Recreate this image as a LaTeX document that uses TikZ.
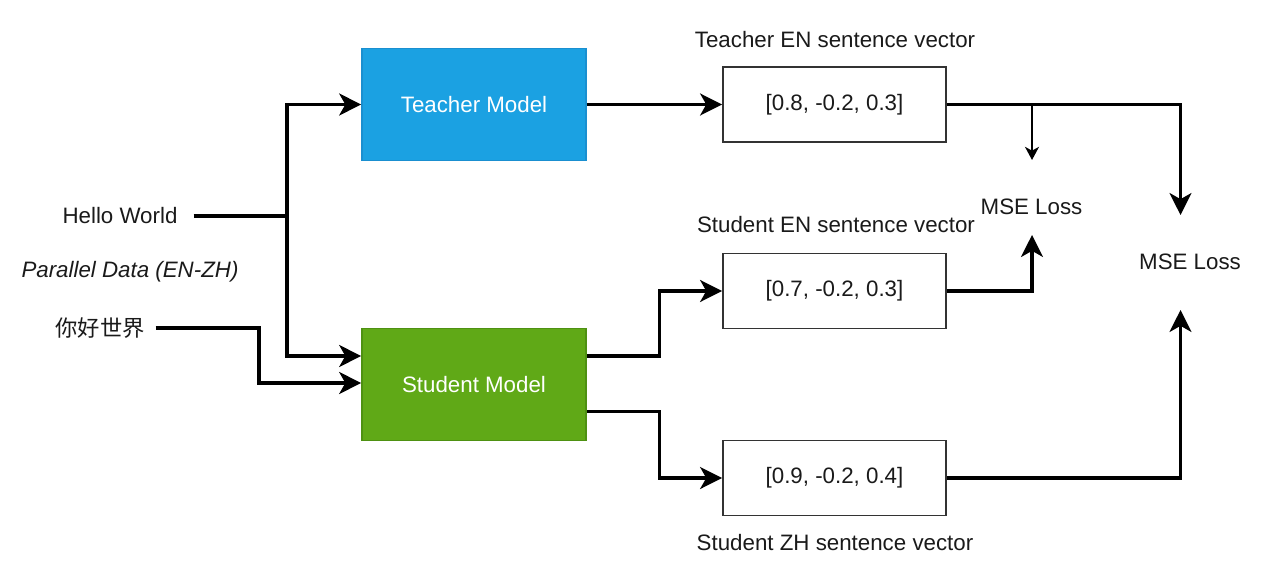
\documentclass[tikz,border=0pt]{standalone}
\usepackage{fontspec}
\setmainfont{Liberation Sans}
\newfontfamily\cjk{Noto Sans CJK SC}
\usetikzlibrary{arrows.meta,calc}
\definecolor{tblue}{HTML}{1BA1E2}
\definecolor{tblueb}{HTML}{1A8FD0}
\definecolor{sgreen}{HTML}{60A917}
\definecolor{sgreenb}{HTML}{4E9112}
\definecolor{txt}{HTML}{1A1A1A}
\tikzset{
  modelbox/.style={draw=#1, line width=1pt, minimum width=4.48cm, minimum height=2.24cm, text=white, font=\fontsize{12.7}{14}\selectfont},
  vecbox/.style={draw=black!80, line width=1.1pt, fill=white, minimum width=4.46cm, minimum height=1.5cm, text=txt, font=\fontsize{12.7}{14}\selectfont},
  lbl/.style={text=txt, font=\fontsize{12.7}{14}\selectfont, inner sep=0pt},
  conn/.style={line width=1.8pt, draw=black, -{Stealth[length=12.5pt,width=12.5pt,inset=3.5pt]}},
  plain/.style={line width=1.8pt, draw=black},
  thinconn/.style={line width=0.9pt, draw=black, -{Stealth[length=7.5pt,width=8pt,inset=2.2pt]}}
}
\begin{document}
\begin{tikzpicture}[x=0.02cm,y=-0.02cm]
\useasboundingbox (0,0) rectangle (1270,584);
% models
\node[modelbox=tblueb, fill=tblue] (teacher) at (474,104.5) {Teacher Model};
\node[modelbox=sgreenb, fill=sgreen] (student) at (474,384.5) {Student Model};
% vectors
\node[vecbox] (tv) at (834.5,104.5) {[0.8, -0.2, 0.3]};
\node[vecbox] (sev) at (834.5,291) {[0.7, -0.2, 0.3]};
\node[vecbox] (szv) at (834.5,478) {[0.9, -0.2, 0.4]};
% labels
\node[lbl] (tvl) at (835,40) {Teacher EN sentence vector};
\node[lbl] (sevl) at (836,225) {Student EN sentence vector};
\node[lbl] (szvl) at (835,543) {Student ZH sentence vector};
\node[lbl] (mse1) at (1031.5,207) {MSE Loss};
\node[lbl] (mse2) at (1190,262) {MSE Loss};
% inputs
\node[lbl, inner xsep=9pt] (hello) at (120,216) {Hello World};
\node[lbl] (para) at (130,272) {\itshape Parallel Data (EN-ZH)};
\node[lbl, inner xsep=6pt] (zh) at (100,328) {\cjk 你好世界};
% coordinates
\coordinate (j1) at (287,216);
\coordinate (j2) at (259,328);
\coordinate (m1t) at (1032,160);
\coordinate (m1b) at (1032,235);
\coordinate (m2t) at (1180.5,215);
\coordinate (m2b) at (1180.5,310);
\coordinate (br) at (1032,104.5);
% connectors
\draw[plain] (hello.east) -- (j1);
\draw[conn] (j1) |- (teacher.west);
\draw[conn] (j1) |- ($(student.west)+(0,-28.5)$);
\draw[conn] (zh.east) -- (j2) |- ($(student.west)+(0,-1.5)$);
\draw[conn] (teacher.east) -- (tv.west);
\draw[conn] ($(student.east)+(0,-28.5)$) -- ++(73,0) |- (sev.west);
\draw[conn] ($(student.east)+(0,27)$) -- ++(73,0) |- (szv.west);
\draw[conn] (tv.east) -| (m2t);
\draw[thinconn] (br) -- (m1t);
\draw[conn] (sev.east) -| (m1b);
\draw[conn] (szv.east) -| (m2b);
\end{tikzpicture}
\end{document}
